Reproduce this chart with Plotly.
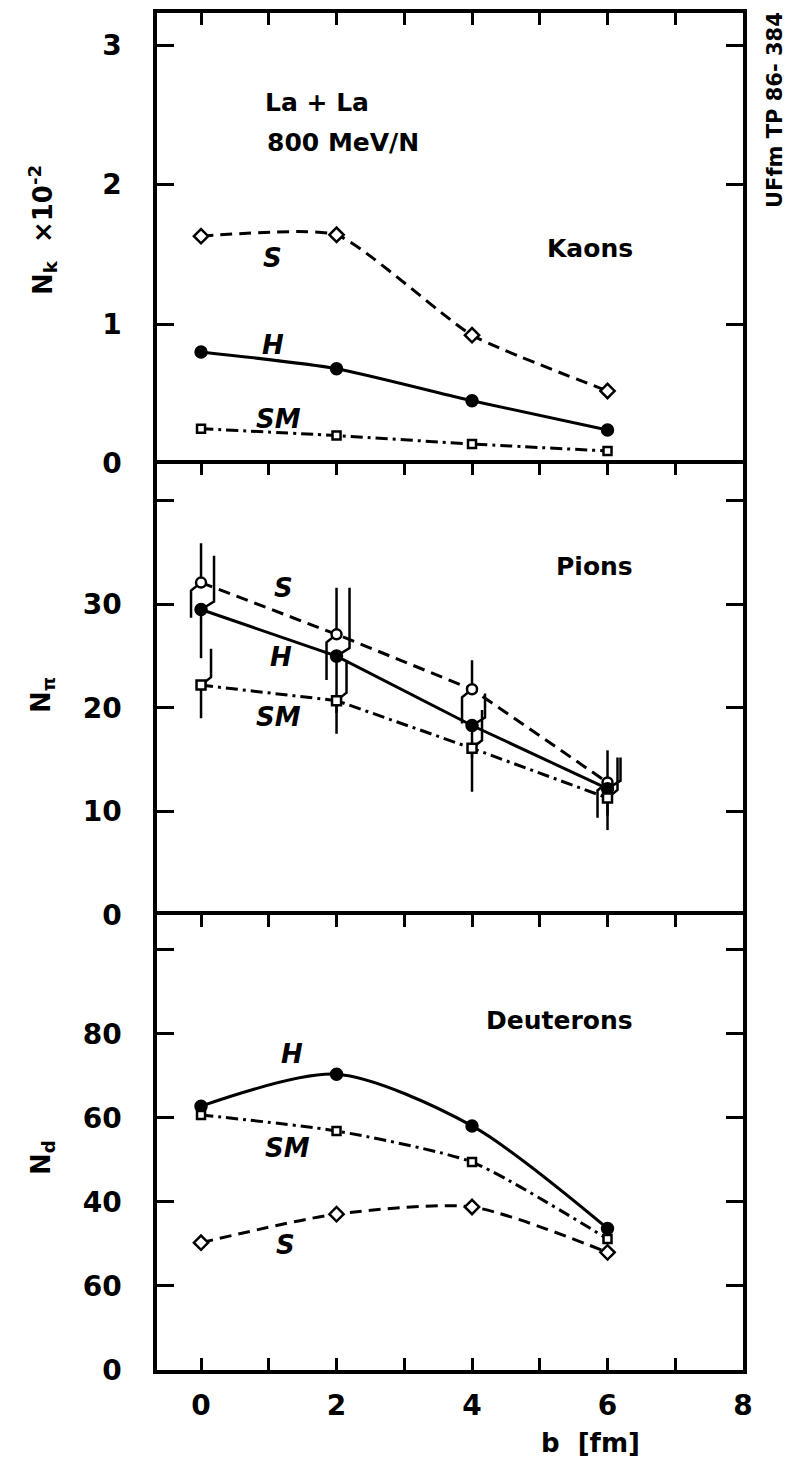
import plotly.graph_objects as go

# Impact parameter b [fm]
b = [0, 2, 4, 6]

# Kaon yields (units of 10^-2)
kaon_S = [1.63, 1.64, 0.92, 0.52]
kaon_H = [0.80, 0.68, 0.45, 0.24]
kaon_SM = [0.25, 0.20, 0.14, 0.09]

# Pion yields with error-bar ends
pion_S = [32.1, 27.1, 21.8, 12.8]
pion_S_hi = [35.9, 31.6, 24.6, 15.9]
pion_S_lo = [28.7, 22.7, 18.5, 9.4]
pion_H = [29.5, 25.0, 18.3, 12.2]
pion_H_hi = [34.7, 31.6, 21.4, 15.2]
pion_H_lo = [24.8, 19.5, 15.2, 9.6]
pion_SM = [22.2, 20.7, 16.1, 11.3]
pion_SM_hi = [25.7, 24.5, 19.8, 15.2]
pion_SM_lo = [19.0, 17.5, 11.9, 8.2]

# Deuteron yields
deut_H = [62.8, 70.4, 58.1, 33.7]
deut_SM = [60.7, 56.9, 49.5, 31.2]
deut_S = [30.3, 37.1, 38.8, 28.0]

# Tick labels
x_ticktext = ["0", "", "2", "", "4", "", "6", "", "8"]
kaon_ticktext = ["0", "1", "2", "3"]
pion_ticktext = ["0", "10", "20", "30", ""]
deut_ticktext = ["0", "60", "40", "60", "80", ""]

W, H = 788, 1466
ML, MR, MT, MB = 157, 45, 13, 96
FONT = "DejaVu Sans"
BLACK = "#000000"
LW = 3

fig = go.Figure()

DASH_S = "12px,7px"
DASH_SM = "12px,5px,3px,5px"


def add_series(xs, ys, xa, ya, dash, symbol, filled, size, shape, smooth=0.6):
    fig.add_trace(go.Scatter(
        x=xs, y=ys, xaxis=xa, yaxis=ya, mode="lines+markers",
        line=dict(color=BLACK, width=LW, dash=dash, shape=shape,
                  smoothing=smooth),
        marker=dict(symbol=symbol, size=size,
                    color=BLACK if filled else "white",
                    line=dict(color=BLACK, width=2.5)),
        showlegend=False, hoverinfo="skip"))


# Kaons (top panel)
add_series(b, kaon_S, "x3", "y3", DASH_S, "diamond", False, 11, "spline", 0.5)
add_series(b, kaon_H, "x3", "y3", "solid", "circle", True, 11, "spline", 0.6)
add_series(b, kaon_SM, "x3", "y3", DASH_SM, "square", False, 8, "spline", 0.6)

# Pions (middle panel): error bars drawn as vertical strokes, partly shifted
# sideways and joined to the marker by a short kink.
PX_X = (W - ML - MR) / 8.65          # pixels per unit of b
PX_PI = 10.375                       # pixels per unit of N_pi
KINK = 8 / PX_PI


def bar_path(xs, ys, ends, dx_px, up):
    px, py = [], []
    for x, y, e in zip(xs, ys, ends):
        dx = dx_px / PX_X
        if dx == 0:
            px += [x, x, None]
            py += [y, e, None]
        else:
            k = y + KINK if up else y - KINK
            px += [x, x + dx, x + dx, None]
            py += [y, k, e, None]
    return px, py


bx, by = [], []
for ys, hi, lo, dxu, dxd in [
        (pion_S, pion_S_hi, pion_S_lo, 0, -10),
        (pion_H, pion_H_hi, pion_H_lo, 13, 0),
        (pion_SM, pion_SM_hi, pion_SM_lo, 10, 0)]:
    p, q = bar_path(b, ys, hi, dxu, True)
    bx += p; by += q
    p, q = bar_path(b, ys, lo, dxd, False)
    bx += p; by += q
fig.add_trace(go.Scatter(x=bx, y=by, xaxis="x2", yaxis="y2", mode="lines",
                         line=dict(color=BLACK, width=2.5),
                         showlegend=False, hoverinfo="skip"))

add_series(b, pion_S, "x2", "y2", DASH_S, "circle", False, 10, "linear")
add_series(b, pion_H, "x2", "y2", "solid", "circle", True, 11, "linear")
add_series(b, pion_SM, "x2", "y2", DASH_SM, "square", False, 9, "linear")

# Deuterons (bottom panel)
add_series(b, deut_H, "x", "y", "solid", "circle", True, 11, "spline", 0.8)
add_series(b, deut_SM, "x", "y", DASH_SM, "square", False, 8, "spline", 0.6)
add_series(b, deut_S, "x", "y", DASH_S, "diamond", False, 11, "spline", 0.7)

plot_h = H - MT - MB
bottom_top = 455 / plot_h
middle_top = (H - MB - 463.5) / plot_h

tickfont = dict(family=FONT, size=28, color=BLACK, weight="bold")

common_x = dict(range=[-0.65, 8.0], tickvals=list(range(9)), ticks="inside",
                ticklen=12, tickwidth=3, tickcolor=BLACK, showline=True,
                linecolor=BLACK, linewidth=3.5, showgrid=False, zeroline=False)
common_y = dict(ticks="inside", ticklen=17, tickwidth=3, tickcolor=BLACK,
                showline=True, linecolor=BLACK, linewidth=3.5, showgrid=False,
                zeroline=False, mirror="ticks", tickfont=tickfont,
                ticklabelstandoff=26)

fig.update_layout(
    width=W, height=H,
    margin=dict(l=ML, r=MR, t=MT, b=MB),
    paper_bgcolor="white", plot_bgcolor="white",
    # bottom panel: ticks along both its lower and upper edge
    xaxis=dict(**common_x, anchor="y", mirror="ticks", ticktext=x_ticktext,
               tickfont=tickfont, ticklabelstandoff=8),
    # upper panels: a single edge line on top with downward ticks
    xaxis2=dict(**common_x, anchor="y2", side="top", mirror=False,
                showticklabels=False, matches="x"),
    xaxis3=dict(**common_x, anchor="y3", side="top", mirror=False,
                showticklabels=False, matches="x"),
    yaxis=dict(**common_y, domain=[0, bottom_top], range=[0, 108.3],
               tickvals=[0, 20, 40, 60, 80, 100], ticktext=deut_ticktext),
    yaxis2=dict(**common_y, domain=[bottom_top, middle_top], range=[0, 43.6],
                tickvals=[0, 10, 20, 30, 40], ticktext=pion_ticktext),
    yaxis3=dict(**common_y, domain=[middle_top, 1], range=[0, 3.23],
                tickvals=[0, 1, 2, 3], ticktext=kaon_ticktext),
)

ann_font = dict(family=FONT, size=25, color=BLACK, weight="bold")
lab_font = dict(family=FONT, size=26, color=BLACK, style="italic",
                weight="bold")


def note(text, x, y, xr, yr, font, xanchor="center", angle=0):
    fig.add_annotation(text=text, x=x, y=y, xref=xr, yref=yr, showarrow=False,
                       font=font, xanchor=xanchor, yanchor="middle",
                       textangle=angle)


# Panel texts
note("La + La", 0.915, 2.585, "x3", "y3", ann_font, "left")
note("800 MeV/N", 0.945, 2.30, "x3", "y3", ann_font, "left")
note("Kaons", 6.41, 1.545, "x3", "y3", ann_font, "right")
note("Pions", 6.41, 33.7, "x2", "y2", ann_font, "right")
note("Deuterons", 6.41, 83.3, "x", "y", ann_font, "right")

# Curve labels
note("S", 1.06, 1.47, "x3", "y3", lab_font)
note("H", 1.06, 0.85, "x3", "y3", lab_font)
note("SM", 1.14, 0.32, "x3", "y3", lab_font)
note("S", 1.21, 31.6, "x2", "y2", lab_font)
note("H", 1.18, 24.9, "x2", "y2", lab_font)
note("SM", 1.14, 19.1, "x2", "y2", lab_font)
note("H", 1.34, 75.2, "x", "y", lab_font)
note("SM", 1.28, 52.9, "x", "y", lab_font)
note("S", 1.25, 29.8, "x", "y", lab_font)


def px_to_paper(xp, yp):
    return (xp - ML) / (W - ML - MR), (H - MB - yp) / plot_h


# Axis titles
title_font = dict(family=FONT, size=26, color=BLACK, weight="bold")
for txt, yp in [("N<sub>k</sub>  ×10<sup>-2</sup>", 230),
                ("N<sub>π</sub>", 695),
                ("N<sub>d</sub>", 1158)]:
    xx, yy = px_to_paper(42, yp)
    note(txt, xx, yy, "paper", "paper", title_font, "center", -90)

xx, yy = px_to_paper(590, 1443)
note("b  [fm]", xx, yy, "paper", "paper", title_font)

xx, yy = px_to_paper(775, 110)
note("UFfm TP 86- 384", xx, yy, "paper", "paper",
     dict(family=FONT, size=21, color=BLACK, weight="bold"), "center", -90)

fig.write_html("out.html")
